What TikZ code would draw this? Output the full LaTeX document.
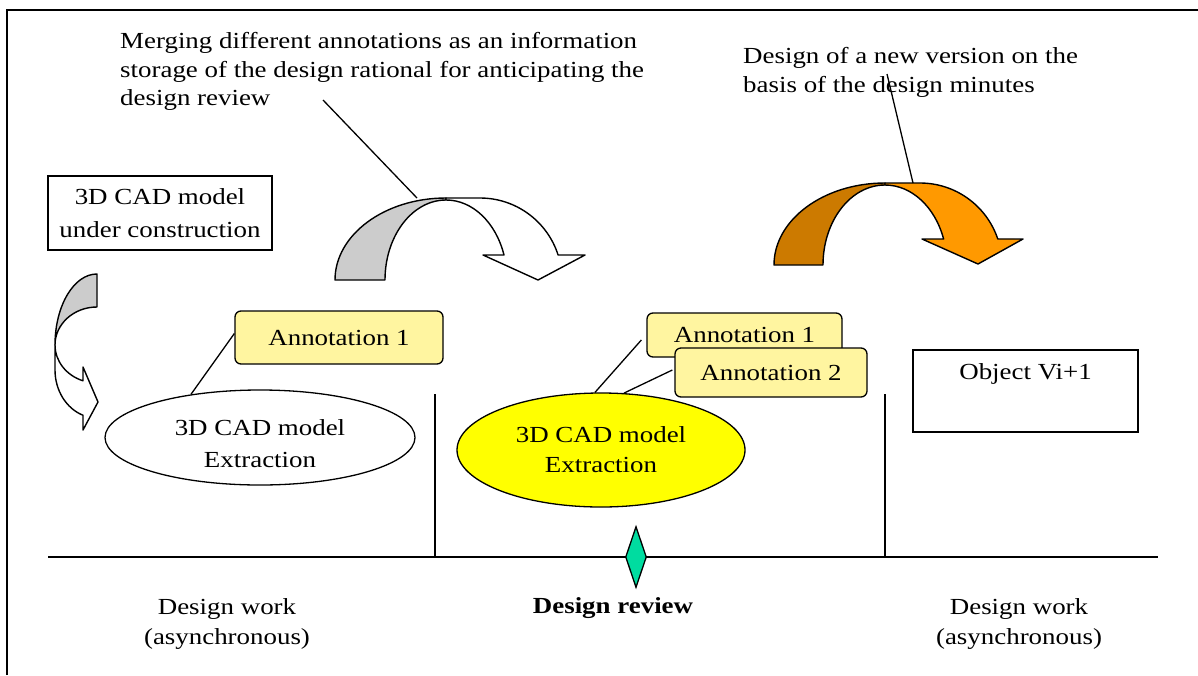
\documentclass[tikz,border=0pt]{standalone}
\usepackage{fontspec}
\setmainfont[FakeStretch=1.17]{Liberation Serif}
\usetikzlibrary{shapes.geometric}
\definecolor{annfill}{RGB}{255,245,160}
\definecolor{bandgray}{RGB}{204,204,204}
\definecolor{orangeback}{RGB}{204,122,0}
\definecolor{orangefront}{RGB}{255,153,0}
\definecolor{cadyellow}{RGB}{255,255,0}
\definecolor{gemgreen}{RGB}{0,220,160}
\begin{document}
\begin{tikzpicture}[x=1pt,y=-1pt,
  every node/.style={font=\fontsize{23}{28.5}\selectfont, inner sep=0pt},
  txt/.style={align=left, anchor=north west},
  plainbox/.style={draw, line width=1.3pt},
  annot/.style={draw, fill=annfill, rounded corners=6pt, line width=1.3pt},
  cadell/.style={ellipse, draw, line width=1.3pt, align=center, font=\fontsize{23}{31}\selectfont},
  band/.style={draw, line width=1.4pt, line join=round},
  leader/.style={line width=1.3pt},
  thinline/.style={line width=1.3pt}]
\useasboundingbox (0,0) rectangle (1198,675);
% frame
\draw[line width=2.5pt] (7,675) -- (7,10) -- (1198,10);

% top texts
\node[txt] (t1) at (120,32.3) {Merging different annotations as an information\\storage of the design rational for anticipating the\\design review};
\node[txt] (t2) at (743,47.3) {Design of a new version on the\\basis of the design minutes};

% left small curved arrow
\path[band, fill=bandgray] (97,274) arc[start angle=270, end angle=180, x radius=42, y radius=71]
   arc[start angle=180, end angle=270, x radius=42, y radius=38] -- cycle;
\path[band, fill=white] (55,345) -- (55,370) arc[start angle=180, end angle=109.5, x radius=42, y radius=48]
   -- (83,430) -- (98,402) -- (83,367) -- (83,380.8)
   arc[start angle=109.5, end angle=180, x radius=42, y radius=38] -- cycle;

% big gray arrow
\path[band, fill=bandgray] (335,280) arc[start angle=180, end angle=270, x radius=111, y radius=82]
   -- (446,200) arc[start angle=270, end angle=180, x radius=61, y radius=80] -- cycle;
\path[band, fill=white] (446,198) -- (480,198) arc[start angle=270, end angle=342.25, radius=82]
   -- (585,255) -- (538,280) -- (483,255) -- (504,255)
   arc[start angle=341.8, end angle=270, x radius=61, y radius=80] -- cycle;

% orange arrow
\path[band, fill=orangeback] (774,265) arc[start angle=180, end angle=270, x radius=111, y radius=82]
   -- (885,185) arc[start angle=270, end angle=180, x radius=62, y radius=80] -- cycle;
\path[band, fill=orangefront] (885,183) -- (920,183) arc[start angle=270, end angle=341.5, radius=82]
   -- (1023,239) -- (978,264) -- (922,239) -- (943.6,239)
   arc[start angle=341.03, end angle=270, x radius=62, y radius=80] -- cycle;

% leaders to the arrows
\coordinate (g0) at (323,100);
\coordinate (g1) at (417,198);
\draw[leader] (g0) -- (g1);
\coordinate (o0) at (887,74);
\coordinate (o1) at (913,183);
\draw[leader] (o0) -- (o1);

% box under construction
\node[plainbox, minimum width=224pt, minimum height=74pt, align=center, font=\fontsize{23}{33}\selectfont] (uc) at (160,213) {3D CAD model\\under construction};

% timeline
\coordinate (tlL) at (48,557);
\coordinate (tlR) at (1158,557);
\draw[thinline] (tlL) -- (tlR);
\coordinate (s1a) at (435,394);
\coordinate (s1b) at (435,557);
\coordinate (s2a) at (885,394);
\coordinate (s2b) at (885,557);
\draw[thinline] (s1a) -- (s1b);
\draw[thinline] (s2a) -- (s2b);
\node[diamond, draw, fill=gemgreen, line width=1.3pt, minimum width=21pt, minimum height=61pt] (dia) at (636,557) {};

% ellipses
\node[cadell, minimum width=310pt, minimum height=95pt,
  label={[align=center, yshift=-6pt, font=\fontsize{23}{32}\selectfont]center:3D CAD model\\Extraction}] (e1) at (260,437.5) {};
\node[cadell, fill=cadyellow, minimum width=288pt, minimum height=114pt, font=\fontsize{23}{30}\selectfont] (e2) at (601,450) {3D CAD model\\Extraction};

% annotations
\node[annot, minimum width=208pt, minimum height=53pt] (a1) at (339,337.5) {Annotation 1};
\node[annot, minimum width=195pt, minimum height=44pt] (m1) at (744.5,335) {Annotation 1};
\node[annot, minimum width=192pt, minimum height=49pt] (m2) at (771,372.5) {Annotation 2};

\draw[leader] ([yshift=4pt]a1.west) -- (e1.148);
\draw[leader] ([xshift=-5pt,yshift=-5pt]m1.west) -- (e2.96);
\draw[leader] ([xshift=-2pt,yshift=2.5pt]m2.west) -- (e2.68);

% object box
\node[plainbox, minimum width=225pt, minimum height=82pt,
  label={[anchor=north, yshift=-14pt]north:Object Vi+1}] (obj) at (1025.5,391) {};

% bottom labels
\node[align=center, font=\fontsize{23}{30}\selectfont] (dw1) at (227,623.5) {Design work\\(asynchronous)};
\node[anchor=base, font=\fontsize{23}{28}\selectfont\bfseries] (dr) at (613,613) {Design review};
\node[align=center, font=\fontsize{23}{30}\selectfont] (dw2) at (1019,623.5) {Design work\\(asynchronous)};
\end{tikzpicture}
\end{document}
